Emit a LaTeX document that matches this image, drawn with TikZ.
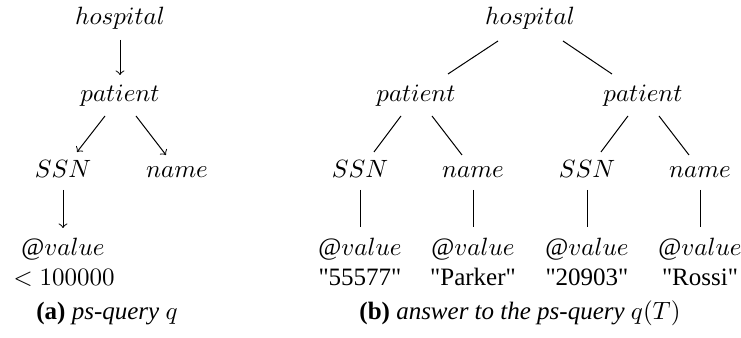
\documentclass[tikz,border=0pt]{standalone}
\usepackage{fontspec}
\setmainfont{Liberation Serif}
% plain family without TeX ligatures, so " stays a straight quote
\newfontfamily\plainserif{Liberation Serif}
\usetikzlibrary{calc}
\begin{document}
\begin{tikzpicture}[x=0.4pt,y=-0.4pt,
  lbl/.style={inner sep=0pt,outer sep=0pt,anchor=base,font=\fontsize{10}{12}\selectfont},
  val/.style={lbl,font=\fontsize{10}{12}\selectfont\plainserif},
  arc/.style={line width=0.4pt},
  qarc/.style={arc,->}]
\useasboundingbox (0,0) rectangle (741,338);

% ---- (a) the ps-query ----
\node[lbl] (qh) at (120,25) {$hospital$};
\node[lbl] (qp) at (120,102) {$patient$};
\node[lbl] (qs) at (63,178) {$SSN$};
\node[lbl] (qn) at (177,178) {$name$};
\node[lbl] (qv) at (63,256) {$@value$};
\node[lbl] (qc) at (64,286) {$<100000$};
\node[lbl] (capa) at (107,320) {\textbf{(a)} \textit{ps-query} $q$};

\draw[qarc] ($(qh.base)+(0,15)$) -- ($(qp.base)+(0,-27)$);
\draw[qarc] ($(qp.base)+(-15,14)$) -- ($(qs.base)+(14,-26)$);
\draw[qarc] ($(qp.base)+(16,14)$) -- ($(qn.base)+(-11,-23)$);
\draw[qarc] ($(qs.base)+(0,12)$) -- ($(qv.base)+(0,-28)$);

% ---- (b) the answer tree ----
\node[lbl] (h) at (530,25) {$hospital$};
\node[lbl] (p1) at (416,102) {$patient$};
\node[lbl] (p2) at (643,102) {$patient$};
\node[lbl] (s1) at (360,178) {$SSN$};
\node[lbl] (n1) at (473,178) {$name$};
\node[lbl] (s2) at (587,178) {$SSN$};
\node[lbl] (n2) at (700,178) {$name$};
\node[lbl] (v1) at (360,256) {$@value$};
\node[lbl] (v2) at (473,256) {$@value$};
\node[lbl] (v3) at (587,256) {$@value$};
\node[lbl] (v4) at (700,256) {$@value$};
\node[val] (c1) at (360,286) {"55577"};
\node[val] (c2) at (473,286) {"Parker"};
\node[val] (c3) at (587,286) {"20903"};
\node[val] (c4) at (700,286) {"Rossi"};
\node[lbl] (capb) at (520,320) {\textbf{(b)} \textit{answer to the ps-query} $q(T)$};

\draw[arc] ($(h.base)+(-32,16)$) -- ($(p1.base)+(32,-28)$);
\draw[arc] ($(h.base)+(33,16)$) -- ($(p2.base)+(-31,-28)$);
\foreach \p/\s/\n in {p1/s1/n1,p2/s2/n2}{
  \draw[arc] ($(\p.base)+(-15,14)$) -- ($(\s.base)+(14,-26)$);
  \draw[arc] ($(\p.base)+(16,14)$) -- ($(\n.base)+(-11,-23)$);
}
\foreach \a/\b in {s1/v1,n1/v2,s2/v3,n2/v4}{
  \draw[arc] ($(\a.base)+(0,12)$) -- ($(\b.base)+(0,-29)$);
}
\end{tikzpicture}
\end{document}
